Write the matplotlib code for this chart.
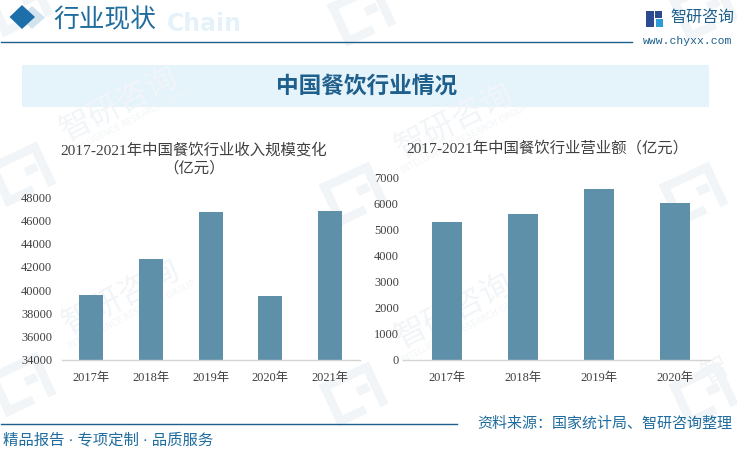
import matplotlib
matplotlib.use('Agg')
import matplotlib.pyplot as plt
from matplotlib.patches import Polygon, Rectangle
from matplotlib.transforms import Affine2D

plt.rcParams['font.family'] = ['Liberation Serif', 'Noto Sans CJK SC', 'DejaVu Sans']

W, H = 737, 450

# data
left_years = ['2017年', '2018年', '2019年', '2020年', '2021年']
left_values = [39570, 42650, 46670, 39480, 46840]
left_ticks = [34000, 36000, 38000, 40000, 42000, 44000, 46000, 48000]
left_title = '2017-2021年中国餐饮行业收入规模变化\n（亿元）'

right_years = ['2017年', '2018年', '2019年', '2020年']
right_values = [5270, 5575, 6530, 5995]
right_ticks = [0, 1000, 2000, 3000, 4000, 5000, 6000, 7000]
right_title = '2017-2021年中国餐饮行业营业额（亿元）'

header = '行业现状'
banner = '中国餐饮行业情况'
footer_left = '精品报告 · 专项定制 · 品质服务'
footer_right = '资料来源：国家统计局、智研咨询整理'
brand = '智研咨询'
site = 'www.chyxx.com'

bar_color = '#5E90A9'
line_color = '#1F5F8B'
text_color = '#404040'
mark_color = '#F2F5F8'

fig = plt.figure(figsize=(W / 100, H / 100), dpi=100)

# background layer in pixel coordinates
bg = fig.add_axes([0, 0, 1, 1], zorder=0)
bg.set_xlim(0, W)
bg.set_ylim(H, 0)
bg.axis('off')


def logo_mark(x, y, s=1.0, color=mark_color):
    # rotated square bits of the watermark logo
    tr = Affine2D().rotate_deg(-25).scale(s).translate(x, y) + bg.transData
    for r in [(-30, -28, 58, 11), (-30, -28, 11, 58), (-30, 19, 40, 11), (10, -5, 16, 11), (28, -28, 11, 58)]:
        bg.add_patch(Rectangle((r[0], r[1]), r[2], r[3], color=color, lw=0, transform=tr))


for lx, ly in [(18, 175), (350, 195), (358, 15), (690, 195), (18, 385), (350, 395), (700, 395), (700, 10), (15, 5)]:
    logo_mark(lx, ly, 0.8)

for tx, ty in [(122, 298), (455, 312), (120, 105), (455, 122)]:
    bg.text(tx, ty, '智研咨询', fontsize=23, color=mark_color, rotation=27, ha='center', va='center')
    bg.text(tx + 10, ty + 17, 'INTELLIGENCE RESEARCH GROUP', fontsize=6, color=mark_color,
            rotation=27, ha='center', va='center', family=['DejaVu Sans'])
bg.text(716, 372, '智', fontsize=20, color=mark_color, rotation=27, ha='center', va='center')

# header
bg.text(167, 24, 'Chain', fontsize=17, color='#E6F2FA', fontweight='bold', ha='left', va='center',
        family=['DejaVu Sans'])
bg.add_patch(Polygon([(32, 6), (45, 17.5), (32, 29), (20, 17.5)], color='#D3E4EF', lw=0))
bg.add_patch(Polygon([(22, 5), (35, 17), (22, 29), (9.5, 17)], color='#1C6FA8', lw=0))
bg.text(105, 20, header, fontsize=18.5, color='#1F6C9E', ha='center', va='center')
bg.plot([1, 632], [41.5, 41.5], color=line_color, lw=1.0)

# brand block
bg.add_patch(Rectangle((646, 11), 8, 16, color='#2B4A8F', lw=0))
bg.add_patch(Rectangle((655, 11), 7, 7, color='#2B4A8F', lw=0))
bg.add_patch(Rectangle((656, 19), 7, 8, color='#2E9BD6', lw=0))
bg.text(702, 18, brand, fontsize=11.5, color='#1F5F8B', ha='center', va='center')
bg.text(688, 41, site, fontsize=8.2, color='#1F5F8B', ha='center', va='center', family=['Liberation Mono'])

# banner
bg.add_patch(Rectangle((22, 65), 687, 42, color='#E5F3FB', lw=0))
bg.text(367, 87, banner, fontsize=16.3, color='#1F5F8B', fontweight='bold', ha='center', va='center')

# footer
bg.plot([1, 457], [423.5, 423.5], color=line_color, lw=1.0)
bg.text(3, 440, footer_left, fontsize=11.1, color='#1F6C9E', ha='left', va='center')
bg.text(732, 424, footer_right, fontsize=10.8, color='#1F6C9E', ha='right', va='center')


def bar_axes(x0, x1, y0, y1):
    ax = fig.add_axes([x0 / W, 1 - y1 / H, (x1 - x0) / W, (y1 - y0) / H], zorder=1)
    ax.patch.set_alpha(0)
    for side in ['top', 'left', 'right']:
        ax.spines[side].set_visible(False)
    ax.spines['bottom'].set_color('#D4D4D4')
    ax.spines['bottom'].set_linewidth(1.0)
    ax.tick_params(length=0, labelsize=8.9, labelcolor=text_color)
    return ax


ax1 = bar_axes(62, 360, 197, 360)
ax1.bar(range(len(left_years)), left_values, width=0.4, color=bar_color)
ax1.set_xlim(-0.49, 4.5)
ax1.set_ylim(34000, 48000)
ax1.set_yticks(left_ticks)
ax1.set_xticks(range(len(left_years)))
ax1.set_xticklabels(left_years)
ax1.tick_params(axis='x', pad=8.5)
ax1.tick_params(axis='y', pad=7)
bg.text(194, 159, left_title, fontsize=11.1, color=text_color, ha='center', va='center', linespacing=1.25)

ax2 = bar_axes(403, 710, 177, 360)
ax2.bar(range(len(right_years)), right_values, width=0.4, color=bar_color)
ax2.set_xlim(-0.579, 3.46)
ax2.set_ylim(0, 7000)
ax2.set_yticks(right_ticks)
ax2.set_xticks(range(len(right_years)))
ax2.set_xticklabels(right_years)
ax2.tick_params(axis='x', pad=8.5)
ax2.tick_params(axis='y', pad=3)
bg.text(547, 148, right_title, fontsize=11.1, color=text_color, ha='center', va='center')

fig.savefig('out.png', dpi=100)
